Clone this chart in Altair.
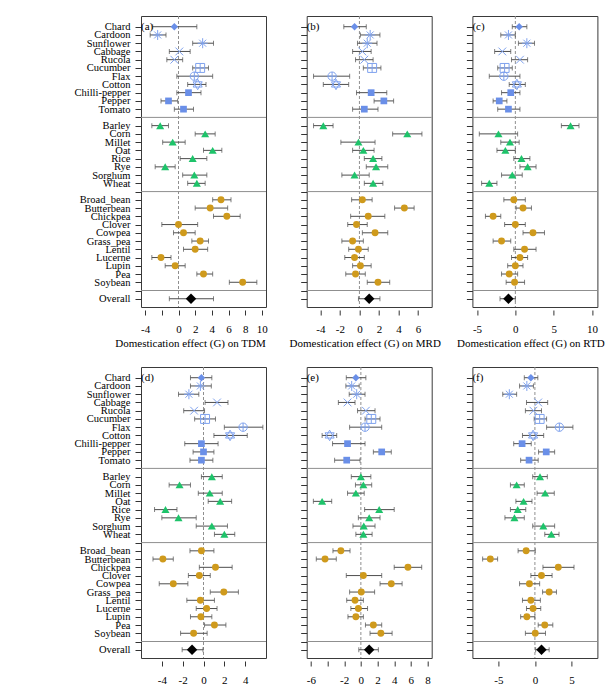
import json
import altair as alt
import pandas as pd

# ---- categories -----------------------------------------------------------
vegetables = ["Chard", "Cardoon", "Sunflower", "Cabbage", "Rucola", "Cucumber",
              "Flax", "Cotton", "Chilli-pepper", "Pepper", "Tomato"]
cereals = ["Barley", "Corn", "Millet", "Oat", "Rice", "Rye", "Sorghum", "Wheat"]
legumes = ["Broad_bean", "Butterbean", "Chickpea", "Clover", "Cowpea", "Grass_pea",
           "Lentil", "Lucerne", "Lupin", "Pea", "Soybean"]
veg_symbols = ["chard", "asterisk", "asterisk", "x", "x", "boxplus", "circleplus",
               "star", "square", "square", "square"]

row_labels = vegetables + [""] + cereals + [""] + legumes + [""] + ["Overall"]
separator_rows = [11, 20, 32]

# ---- effect sizes (G) with 95% CI: (a) TDM ---------------------------------
a_veg_g = [-0.5, -2.5, 2.9, 0.1, -0.5, 2.6, 1.9, 2.3, 1.2, -1.2, 0.6]
a_veg_lo = [-3.1, -3.4, 1.7, -1.1, -1.4, 1.7, -0.2, 1.1, -0.2, -2.1, -0.5]
a_veg_hi = [2.2, -1.5, 4.2, 1.4, 0.5, 3.6, 4.1, 3.3, 2.7, -0.1, 1.8]
a_cer_g = [-2.2, 3.2, -0.7, 4.1, 1.7, -1.6, 1.9, 2.2]
a_cer_lo = [-3.2, 2.0, -1.9, 3.0, 0.2, -2.8, 0.5, 1.1]
a_cer_hi = [-1.2, 4.4, 0.8, 5.2, 3.4, -0.4, 3.4, 3.2]
a_leg_g = [5.1, 3.8, 5.8, 0.0, 0.6, 2.6, 2.0, -2.1, -0.4, 3.0, 7.7]
a_leg_lo = [4.1, 2.0, 4.2, -2.0, -0.6, 1.6, 0.6, -3.2, -1.6, 2.2, 6.1]
a_leg_hi = [6.3, 5.9, 7.4, 2.3, 2.0, 3.6, 3.5, -0.9, 0.8, 4.1, 9.4]
a_overall = [1.5, -1.1, 4.2]

# ---- (b) MRD ----------------------------------------------------------------
b_veg_g = [-0.5, 1.1, 0.8, 0.3, 0.5, 1.3, -2.8, -2.4, 1.2, 2.5, 0.5]
b_veg_lo = [-1.6, 0.1, -0.2, -0.7, -0.4, 0.4, -4.7, -3.7, -0.3, 1.5, -0.7]
b_veg_hi = [0.7, 2.1, 1.8, 1.2, 1.4, 2.2, -1.0, -1.1, 2.8, 3.5, 1.9]
b_cer_g = [-3.7, 4.9, -0.1, 0.4, 1.4, 1.7, -0.5, 1.4]
b_cer_lo = [-4.7, 3.4, -1.9, -0.7, 0.5, 0.7, -1.8, 0.5]
b_cer_hi = [-2.7, 6.4, 1.6, 1.5, 2.3, 2.9, 1.0, 2.4]
b_leg_g = [0.3, 4.6, 0.9, -0.3, 1.6, -0.7, -0.1, -0.5, 0.1, -0.4, 1.9]
b_leg_lo = [-0.8, 3.6, -0.9, -1.2, 0.3, -1.8, -1.1, -1.5, -0.7, -1.4, 0.8]
b_leg_hi = [1.3, 5.6, 2.6, 0.8, 2.9, 0.4, 0.9, 0.5, 1.2, 0.6, 3.1]
b_overall = [1.0, -0.1, 2.1]

# ---- (c) RTD ----------------------------------------------------------------
c_veg_g = [0.5, -0.9, 1.5, -1.7, 0.6, -1.4, -1.5, 0.2, -0.6, -2.1, -0.9]
c_veg_lo = [-0.4, -1.9, 0.4, -2.7, -0.5, -2.3, -3.4, -0.8, -1.8, -2.9, -2.3]
c_veg_hi = [1.5, 0.0, 2.5, -0.6, 1.6, -0.4, 0.6, 1.3, 0.6, -1.1, 0.6]
c_cer_g = [7.2, -2.2, -0.7, -1.3, 0.8, 1.6, -0.4, -3.4]
c_cer_lo = [6.0, -4.7, -1.9, -2.4, -0.2, 0.6, -1.8, -4.4]
c_cer_hi = [8.3, 0.3, 0.5, 0.0, 1.9, 2.7, 0.9, -2.4]
c_leg_g = [-0.2, 1.0, -2.9, 0.0, 2.3, -1.8, 1.2, 0.6, 0.0, -0.8, -0.1]
c_leg_lo = [-1.5, 0.1, -3.9, -1.4, 1.0, -2.9, -0.2, -0.5, -1.0, -1.8, -1.2]
c_leg_hi = [1.3, 2.1, -1.9, 1.3, 3.8, -0.6, 2.7, 1.6, 1.0, 0.3, 1.2]
c_overall = [-0.9, -2.0, 0.0]

# ---- (d) --------------------------------------------------------------------
d_veg_g = [-0.2, -0.3, -1.4, 1.3, -0.9, 0.15, 3.8, 2.55, -0.2, 0.0, -0.2]
d_veg_lo = [-1.25, -1.25, -2.4, 0.15, -1.9, -0.85, 2.0, 1.0, -1.8, -1.0, -1.3]
d_veg_hi = [0.8, 0.75, -0.45, 2.35, 0.1, 1.15, 5.7, 4.2, 1.4, 1.0, 0.9]
d_cer_g = [0.8, -2.3, 0.6, 1.6, -3.65, -2.4, 0.8, 2.0]
d_cer_lo = [-0.2, -3.3, -0.5, 0.45, -4.7, -4.0, -0.7, 1.05]
d_cer_hi = [1.8, -1.25, 1.8, 2.7, -2.55, -0.7, 2.3, 3.0]
d_leg_g = [-0.2, -3.9, 1.15, -0.4, -2.9, 1.95, -0.3, 0.3, -0.25, 1.05, -0.95]
d_leg_lo = [-1.3, -4.85, -0.4, -1.45, -4.25, 0.65, -1.6, -0.7, -1.25, 0.1, -2.2]
d_leg_hi = [1.0, -2.9, 2.75, 0.65, -1.5, 3.35, 1.05, 1.3, 0.8, 2.15, 0.35]
d_overall = [-1.1, -2.05, -0.05]

# ---- (e) --------------------------------------------------------------------
e_veg_g = [-0.6, -1.1, -0.5, -1.6, 0.6, 1.25, 0.5, -3.75, -1.6, 2.5, -1.7]
e_veg_lo = [-1.75, -1.8, -1.4, -2.7, -0.4, 0.5, -1.35, -4.65, -3.4, 1.5, -3.15]
e_veg_hi = [0.6, -0.2, 0.5, -0.7, 1.7, 2.3, 2.5, -2.9, 0.5, 3.65, -0.1]
e_cer_g = [0.0, 0.3, -0.6, -4.65, 2.2, 1.0, 0.35, 0.3]
e_cer_lo = [-1.15, -0.65, -1.6, -5.7, 0.45, -0.3, -0.95, -0.6]
e_cer_hi = [1.2, 1.3, 0.4, -3.5, 4.0, 2.3, 1.7, 1.35]
e_leg_g = [-2.4, -4.3, 5.65, 0.3, 3.65, 0.05, -0.7, -0.3, -0.6, 1.5, 2.4]
e_leg_lo = [-3.35, -5.35, 4.0, -1.75, 2.3, -1.35, -1.7, -1.2, -1.55, 0.55, 1.1]
e_leg_hi = [-1.3, -2.95, 7.3, 2.5, 4.95, 1.65, 0.3, 0.8, 0.3, 2.5, 3.75]
e_overall = [1.0, -0.25, 2.1]

# ---- (f) --------------------------------------------------------------------
f_veg_g = [-0.55, -1.1, -3.5, 0.45, -0.2, 0.65, 3.35, -0.25, -1.75, 1.55, -0.8]
f_veg_lo = [-1.45, -2.1, -4.4, -1.15, -1.3, -0.1, 1.6, -1.7, -2.9, 0.5, -1.95]
f_veg_hi = [0.4, -0.2, -2.5, 1.75, 0.9, 1.6, 5.2, 1.2, -0.5, 2.7, 0.45]
f_cer_g = [0.7, -2.5, 1.4, -1.55, -2.35, -2.8, 1.15, 2.25]
f_cer_lo = [-0.3, -3.35, 0.3, -2.6, -3.35, -4.1, -0.3, 1.35]
f_cer_hi = [1.7, -1.45, 2.65, -0.4, -1.25, -1.45, 2.7, 3.3]
f_leg_g = [-1.2, -6.1, 3.2, 0.9, -0.75, 1.95, -0.55, -0.25, -1.1, 1.35, 0.05]
f_leg_lo = [-2.3, -7.15, 1.1, -0.55, -2.1, 1.05, -1.7, -1.15, -1.95, 0.45, -1.3]
f_leg_hi = [0.05, -5.1, 5.35, 2.35, 0.65, 2.95, 0.75, 0.8, 0.0, 2.45, 1.45]
f_overall = [0.9, 0.1, 1.95]

# ---- marker styles ------------------------------------------------------------
BLUE = "#6a8fe8"
LIGHT_BLUE = "#7fa2ee"
GREEN = "#1ec36a"
GOLD = "#cf9a1c"
CI_COLOR = "#4d4d4d"
GUIDE_COLOR = "#8f8f8f"
FONT = "'Liberation Serif', 'Times New Roman', serif"

style_shape = {
    "chard": "diamond",
    "square": "square",
    "triangle": "triangle-up",
    "circle": "circle",
    "overall": "diamond",
    "asterisk": "M-1,0L1,0M0,-1L0,1M-0.7,-0.7L0.7,0.7M-0.7,0.7L0.7,-0.7",
    "x": "M-1,-1L1,1M-1,1L1,-1",
    "boxplus": "M-1,-1L1,-1L1,1L-1,1ZM-1,0L1,0M0,-1L0,1",
    "circleplus": "M-1,0A1,1 0 1,0 1,0A1,1 0 1,0 -1,0ZM-1,0L1,0M0,-1L0,1",
    "star": "M0,-1L0.866,0.5L-0.866,0.5ZM0,1L0.866,-0.5L-0.866,-0.5Z",
}
style_color = {
    "chard": BLUE, "square": BLUE, "triangle": GREEN, "circle": GOLD,
    "overall": "black", "asterisk": LIGHT_BLUE, "x": LIGHT_BLUE,
    "boxplus": LIGHT_BLUE, "circleplus": LIGHT_BLUE, "star": LIGHT_BLUE,
}
style_size = {
    "chard": 55, "square": 45, "triangle": 65, "circle": 48, "overall": 110,
    "asterisk": 100, "x": 60, "boxplus": 80, "circleplus": 70, "star": 110,
}
filled_styles = ["chard", "square", "triangle", "circle", "overall"]
open_styles = ["asterisk", "x", "boxplus", "circleplus", "star"]


def panel_table(veg, cer, leg, overall):
    names = vegetables + cereals + legumes + ["Overall"]
    rows = list(range(0, 11)) + list(range(12, 20)) + list(range(21, 32)) + [33]
    styles = veg_symbols + ["triangle"] * len(cereals) + ["circle"] * len(legumes) + ["overall"]
    df = pd.DataFrame({
        "name": names,
        "row": rows,
        "style": styles,
        "g": veg[0] + cer[0] + leg[0] + [overall[0]],
        "lo": veg[1] + cer[1] + leg[1] + [overall[1]],
        "hi": veg[2] + cer[2] + leg[2] + [overall[2]],
    })
    df["shape"] = df["style"].map(style_shape)
    df["color"] = df["style"].map(style_color)
    df["size"] = df["style"].map(style_size)
    return df


def panel(df, tag, domain, ticks, hidden_tick, title, title_x, show_labels):
    xs = alt.Scale(domain=domain, nice=False, zero=False)
    ys = alt.Scale(domain=[-1.3, 34.0], reverse=True, nice=False, zero=False)

    if hidden_tick is None:
        x_label_expr = "toString(datum.value)"
    else:
        x_label_expr = f"datum.value == {hidden_tick} ? '' : toString(datum.value)"
    x_axis_args = dict(values=ticks, labelExpr=x_label_expr, grid=False,
                       labelFlush=False, labelOverlap=False)
    if title:
        x_axis_args.update(title=title, titleX=title_x, titleAlign="center")
    else:
        x_axis_args.update(title=None)
    x_axis = alt.Axis(**x_axis_args)

    y_axis_args = dict(values=list(range(len(row_labels))), title=None, grid=False,
                       labelOverlap=False, labelFlush=False, labelBound=False,
                       labelFontSize=10.5)
    if show_labels:
        y_axis_args.update(labelExpr=json.dumps(row_labels) + "[datum.value]",
                           minExtent=140)
    else:
        y_axis_args.update(labels=False)
    y_axis = alt.Axis(**y_axis_args)

    # every layer carries the same axis definition so the merged axis stays intact
    def X(field):
        return alt.X(field, scale=xs, axis=x_axis)

    def Y():
        return alt.Y("row:Q", scale=ys, axis=y_axis)

    base = alt.Chart(df)

    zero_line = alt.Chart(pd.DataFrame({"x": [0]})).mark_rule(
        color=GUIDE_COLOR, strokeDash=[3, 2], strokeWidth=1
    ).encode(x=X("x:Q"))

    separators = alt.Chart(pd.DataFrame({"row": separator_rows})).mark_rule(
        color=GUIDE_COLOR, strokeWidth=1
    ).encode(y=Y())

    ci = base.mark_rule(color=CI_COLOR, strokeWidth=1).encode(
        x=X("lo:Q"), x2="hi:Q", y=Y()
    )
    cap_lo = base.mark_tick(color=CI_COLOR, thickness=1, size=5, orient="vertical").encode(
        x=X("lo:Q"), y=Y()
    )
    cap_hi = base.mark_tick(color=CI_COLOR, thickness=1, size=5, orient="vertical").encode(
        x=X("hi:Q"), y=Y()
    )

    point_enc = dict(
        x=X("g:Q"),
        y=Y(),
        shape=alt.Shape("shape:N", scale=None),
        color=alt.Color("color:N", scale=None),
        size=alt.Size("size:Q", scale=None),
    )
    filled = base.transform_filter(
        alt.FieldOneOfPredicate(field="style", oneOf=filled_styles)
    ).mark_point(filled=True, opacity=1, strokeWidth=0).encode(**point_enc)
    hollow = base.transform_filter(
        alt.FieldOneOfPredicate(field="style", oneOf=open_styles)
    ).mark_point(filled=False, opacity=1, strokeWidth=1).encode(**point_enc)

    tag_text = alt.Chart(pd.DataFrame({"tag": [tag], "x": [domain[0]], "row": [0]})).mark_text(
        align="left", baseline="middle", font=FONT, fontSize=11, color="black", dx=0
    ).encode(x=X("x:Q"), y=Y(), text="tag:N")

    return alt.layer(zero_line, separators, ci, cap_lo, cap_hi, filled, hollow, tag_text).properties(
        width=125, height=291
    )


pa = panel(panel_table((a_veg_g, a_veg_lo, a_veg_hi), (a_cer_g, a_cer_lo, a_cer_hi),
                       (a_leg_g, a_leg_lo, a_leg_hi), a_overall),
           "(a)", [-4.5, 10.5], [-4, -2, 0, 2, 4, 6, 8, 10], -2,
           "Domestication effect (G) on TDM", 49, True)
pb = panel(panel_table((b_veg_g, b_veg_lo, b_veg_hi), (b_cer_g, b_cer_lo, b_cer_hi),
                       (b_leg_g, b_leg_lo, b_leg_hi), b_overall),
           "(b)", [-5.4, 7.4], [-4, -2, 0, 2, 4, 6], None,
           "Domestication effect (G) on MRD", 58, False)
pc = panel(panel_table((c_veg_g, c_veg_lo, c_veg_hi), (c_cer_g, c_cer_lo, c_cer_hi),
                       (c_leg_g, c_leg_lo, c_leg_hi), c_overall),
           "(c)", [-5.6, 10.7], [-5, 0, 5, 10], None,
           "Domestication effect (G) on RTD", 58, False)
pd_ = panel(panel_table((d_veg_g, d_veg_lo, d_veg_hi), (d_cer_g, d_cer_lo, d_cer_hi),
                        (d_leg_g, d_leg_lo, d_leg_hi), d_overall),
            "(d)", [-6.0, 6.0], [-4, -2, 0, 2, 4], None, None, 0, True)
pe = panel(panel_table((e_veg_g, e_veg_lo, e_veg_hi), (e_cer_g, e_cer_lo, e_cer_hi),
                       (e_leg_g, e_leg_lo, e_leg_hi), e_overall),
           "(e)", [-6.5, 8.5], [-6, -4, -2, 0, 2, 4, 6, 8], -4, None, 0, False)
pf = panel(panel_table((f_veg_g, f_veg_lo, f_veg_hi), (f_cer_g, f_cer_lo, f_cer_hi),
                       (f_leg_g, f_leg_lo, f_leg_hi), f_overall),
           "(f)", [-8.55, 8.55], [-5, 0, 5], None, None, 0, False)

chart = alt.concat(
    pa, pb, pc, pd_, pe, pf,
    columns=3,
    spacing={"row": 60, "column": 40.7},
    bounds="flush",
).properties(
    padding={"left": 0, "top": 15, "right": 0, "bottom": 0},
    background="white",
).configure_view(
    stroke="#3a3a3a", strokeWidth=1
).configure_axis(
    labelFont=FONT, labelFontSize=11, labelColor="black",
    titleFont=FONT, titleFontSize=11, titleFontWeight="normal", titleColor="black",
    tickColor="#333333", tickWidth=1, domain=False,
).configure_axisX(
    offset=3, tickSize=5, labelPadding=8, titlePadding=3,
).configure_axisY(
    tickSize=6, labelPadding=5,
)

chart.save("out.html", embed_options={"renderer": "svg", "actions": False})
